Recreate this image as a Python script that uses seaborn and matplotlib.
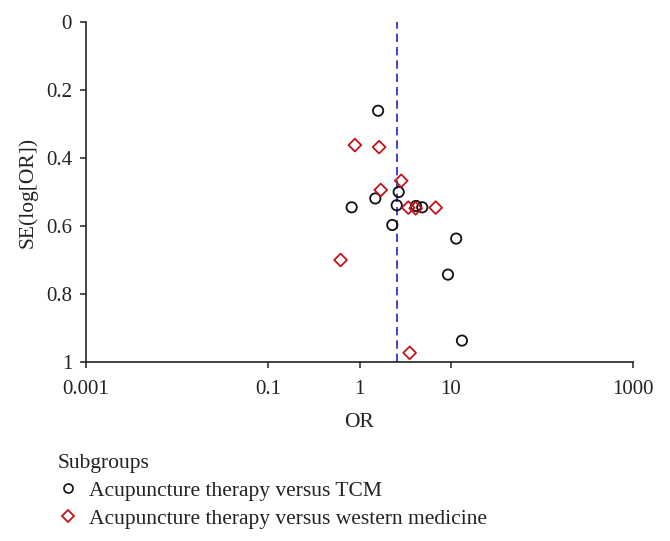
import matplotlib
matplotlib.use("Agg")
import matplotlib.pyplot as plt
import seaborn as sns
import pandas as pd
from matplotlib.lines import Line2D

# Data
tcm_or = [1.60, 2.69, 1.49, 0.82, 2.56, 4.17, 4.88, 2.29, 11.5, 9.34, 13.3]
tcm_se = [0.261, 0.500, 0.519, 0.545, 0.539, 0.541, 0.545, 0.597, 0.637, 0.743, 0.937]
wm_or = [0.89, 1.64, 2.87, 1.71, 3.43, 4.13, 6.85, 0.62, 3.55]
wm_se = [0.362, 0.368, 0.467, 0.494, 0.546, 0.548, 0.546, 0.700, 0.973]
pooled_or = 2.56
groups = ["Acupuncture therapy versus TCM", "Acupuncture therapy versus western medicine"]
x_ticks = [0.001, 0.1, 1, 10, 1000]
x_ticklabels = ["0.001", "0.1", "1", "10", "1000"]
y_ticks = [0, 0.2, 0.4, 0.6, 0.8, 1]
y_ticklabels = ["0", "0.2", "0.4", "0.6", "0.8", "1"]

sns.set_theme(style="white")
plt.rcParams["font.family"] = ["Liberation Serif", "DejaVu Serif"]

df_tcm = pd.DataFrame({"OR": tcm_or, "SE": tcm_se})
df_wm = pd.DataFrame({"OR": wm_or, "SE": wm_se})

fig = plt.figure(figsize=(6.70, 5.41), dpi=100)
ax = fig.add_axes([86 / 670, 1 - 362 / 541, (633 - 86) / 670, (362 - 22) / 541])

black = "#111111"
red = "#c0141c"
blue = "#2020c8"
txt = "#222222"

ax.axvline(pooled_or, color=blue, lw=1.2, ls=(0, (5, 3)), zorder=1)

sns.scatterplot(data=df_tcm, x="OR", y="SE", marker="o", s=55, ax=ax, zorder=3)
c1 = ax.collections[-1]
c1.set_facecolor("none"); c1.set_edgecolor(black); c1.set_linewidth(1.3)
sns.scatterplot(data=df_wm, x="OR", y="SE", marker="D", s=42, ax=ax, zorder=3)
c2 = ax.collections[-1]
c2.set_facecolor("none"); c2.set_edgecolor(red); c2.set_linewidth(1.3)

ax.set_xscale("log")
ax.set_xlim(0.001, 1000)
ax.set_ylim(1, 0)
ax.set_xticks(x_ticks)
ax.set_xticklabels(x_ticklabels)
ax.minorticks_off()
ax.set_yticks(y_ticks)
ax.set_yticklabels(y_ticklabels)

for s in ["top", "right"]:
    ax.spines[s].set_visible(False)
for s in ["left", "bottom"]:
    ax.spines[s].set_color(txt)
    ax.spines[s].set_linewidth(1.2)

ax.tick_params(axis="both", which="major", direction="out", length=4, width=1.1,
               color=txt, labelsize=15, labelcolor=txt,
               bottom=True, left=True)
ax.tick_params(axis="x", pad=9)
ax.tick_params(axis="y", pad=6)
ax.set_xlabel("OR", fontsize=15.5, color=txt, labelpad=10)
ax.set_ylabel("SE(log[OR])", fontsize=15.5, color=txt, labelpad=6)

handles = [
    Line2D([], [], marker="o", ls="none", markersize=6.5, markerfacecolor="none",
           markeredgecolor=black, markeredgewidth=1.2),
    Line2D([], [], marker="D", ls="none", markersize=6, markerfacecolor="none",
           markeredgecolor=red, markeredgewidth=1.3),
]
leg = fig.legend(handles, groups, title="Subgroups", loc="upper left",
                 bbox_to_anchor=(53 / 670, 1 - 450 / 541), frameon=False,
                 fontsize=15.5, title_fontsize=15.5, alignment="left",
                 handlelength=1.0, handletextpad=0.45, labelspacing=0.35,
                 borderpad=0.2, borderaxespad=0)
for t in leg.get_texts():
    t.set_color(txt)
leg.get_title().set_color(txt)

fig.savefig("out.png", dpi=100)
